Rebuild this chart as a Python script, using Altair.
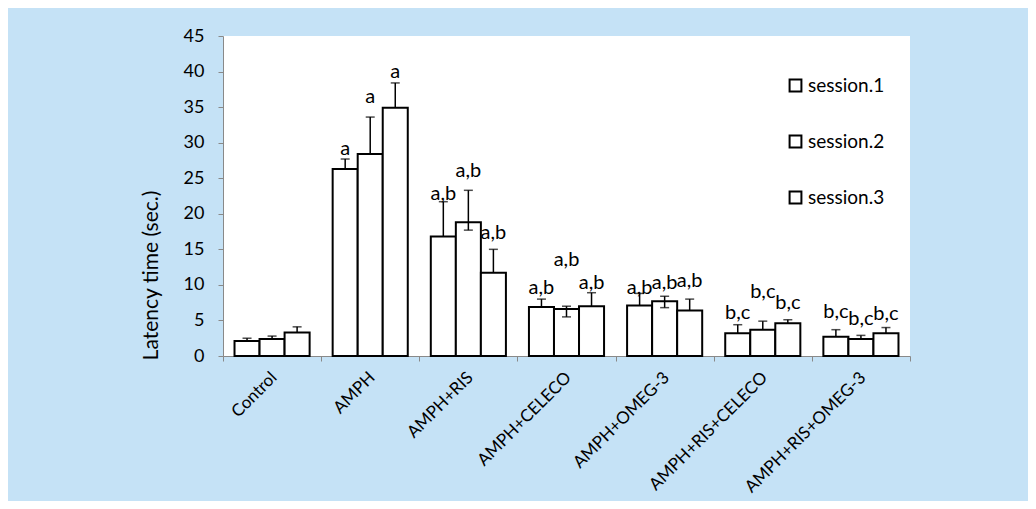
import altair as alt
import pandas as pd

groups = ["Control", "AMPH", "AMPH+RIS", "AMPH+CELECO", "AMPH+OMEG-3",
          "AMPH+RIS+CELECO", "AMPH+RIS+OMEG-3"]
sessions = ["session.1", "session.2", "session.3"]

s1 = [2.1, 26.3, 16.8, 6.9, 7.1, 3.2, 2.7]
s2 = [2.4, 28.4, 18.8, 6.6, 7.7, 3.7, 2.4]
s3 = [3.3, 34.9, 11.7, 7.0, 6.4, 4.6, 3.2]

e1_hi = [2.5, 27.7, 21.7, 8.0, 8.8, 4.4, 3.7]
e2_hi = [2.8, 33.6, 23.3, 7.0, 8.4, 4.9, 2.9]
e3_hi = [4.1, 38.4, 15.0, 8.9, 8.0, 5.1, 4.0]
e2_lo = [None, None, 17.7, 5.5, 6.8, None, None]

lab1 = ["", "a", "a,b", "a,b", "a,b", "b,c", "b,c"]
lab2 = ["", "a", "a,b", "a,b", "a,b", "b,c", "b,c"]
lab3 = ["", "a", "a,b", "a,b", "a,b", "b,c", "b,c"]
laby1 = [0, 29.1, 22.8, 9.5, 9.5, 6.0, 6.2]
laby2 = [0, 36.4, 26.0, 13.5, 10.3, 9.0, 5.2]
laby3 = [0, 40.0, 17.3, 10.3, 10.6, 7.4, 5.9]
yticks = [0, 5, 10, 15, 20, 25, 30, 35, 40, 45]

rows = []
for i, g in enumerate(groups):
    for s, v, hi, lo, lb, ly in [
        (sessions[0], s1[i], e1_hi[i], None, lab1[i], laby1[i]),
        (sessions[1], s2[i], e2_hi[i], e2_lo[i], lab2[i], laby2[i]),
        (sessions[2], s3[i], e3_hi[i], None, lab3[i], laby3[i]),
    ]:
        rows.append(dict(group=g, session=s, value=v, hi=hi,
                         lo=(lo if lo is not None else v), label=lb, laby=ly))
df = pd.DataFrame(rows)

caps = []
for r in rows:
    caps.append(dict(group=r["group"], session=r["session"], cap=r["hi"]))
    if r["lo"] != r["value"]:
        caps.append(dict(group=r["group"], session=r["session"], cap=r["lo"]))
cdf = pd.DataFrame(caps)
ldf = df[df["label"] != ""]

FONT = "Lato"
TITLE = "Latency time  (sec.)"

xaxis = alt.Axis(labelAngle=-45, labelAlign="right", labelBaseline="top",
                 labelPadding=8, labelOffset=-4, tickBand="extent",
                 labelFontSize=17, labelFont=FONT, labelColor="black",
                 tickSize=5, tickColor="#898989", domainColor="#898989")
yaxis = alt.Axis(values=yticks, grid=False, labelOverlap=False, labelPadding=14,
                 labelFontSize=18, labelFont=FONT, labelColor="black",
                 tickSize=5, tickColor="#898989", domainColor="#898989",
                 titleFont=FONT, titleFontSize=21, titleFontWeight="normal",
                 titleColor="black", titleX=-62, titleY=239, titleLimit=400,
                 titleAlign="center", titleBaseline="bottom", titleAngle=270)
xscale = alt.Scale(paddingInner=0, paddingOuter=0)
y_scale = alt.Scale(domain=[0, 45], nice=False)


def X():
    return alt.X("group:N", sort=groups, title=None, scale=xscale, axis=xaxis)


def XO():
    return alt.XOffset("session:N", sort=sessions,
                       scale=alt.Scale(paddingInner=0, paddingOuter=0.46))


def Y(field):
    return alt.Y(field, scale=y_scale, title=TITLE, axis=yaxis)


bars = alt.Chart(df).mark_bar(stroke="black", strokeWidth=2, fill="white").encode(
    x=X(), xOffset=XO(), y=Y("value:Q"),
    fill=alt.Fill("session:N", sort=sessions,
                  scale=alt.Scale(domain=sessions, range=["white", "white", "white"]),
                  legend=alt.Legend(title=None, orient="none", legendX=563, legendY=40,
                                    symbolType="square", symbolSize=140,
                                    symbolStrokeColor="black", symbolStrokeWidth=2,
                                    labelFont=FONT, labelFontSize=19, labelColor="black",
                                    rowPadding=35, labelOffset=3)),
)

err = alt.Chart(df).mark_rule(color="black", strokeWidth=1.5).encode(
    x=X(), xOffset=XO(), y=Y("lo:Q"), y2="hi:Q",
)

capm = alt.Chart(cdf).mark_tick(color="black", thickness=1.5, size=9).encode(
    x=X(), xOffset=XO(), y=Y("cap:Q"),
)

txt = alt.Chart(ldf).mark_text(font=FONT, fontSize=20, color="black",
                               baseline="middle").encode(
    x=X(), xOffset=XO(), y=Y("laby:Q"), text="label:N",
)

chart = alt.layer(bars, err, capm, txt).properties(
    width=687, height=320,
    background="#C5E2F6",
    padding={"left": 215, "top": 28, "right": 118, "bottom": 145},
    autosize=alt.AutoSizeParams(type="none"),
).configure_view(fill="white", stroke=None).configure_axis(
    labelFont=FONT, titleFont=FONT, labelColor="black", titleColor="black",
    titleFontWeight="normal", labelOverlap=False,
).configure_axisY(labelFontSize=18, titleFontSize=21)

chart.save("out.html", embed_options={"renderer": "svg", "actions": False})
